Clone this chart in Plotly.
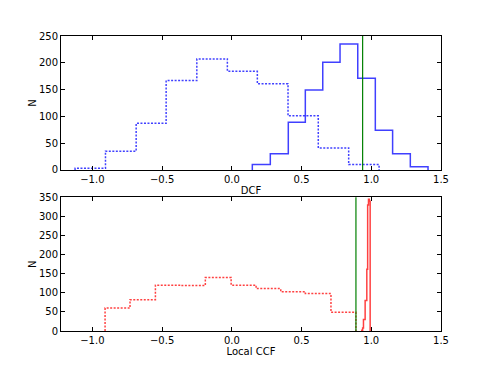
import plotly.graph_objects as go
from plotly.subplots import make_subplots

# DCF distributions (top panel)
dcf_ref_edges = [-1.124, -0.906, -0.686, -0.471, -0.251, -0.032, 0.183, 0.403, 0.620, 0.838, 1.056]
dcf_ref_counts = [3, 35, 87, 167, 207, 184, 161, 101, 41, 10]
dcf_edges = [0.147, 0.276, 0.405, 0.527, 0.652, 0.776, 0.903, 1.029, 1.153, 1.280, 1.407]
dcf_counts = [10, 30, 89, 149, 201, 235, 171, 74, 30, 6]
dcf_marker = 0.938

# Local CCF distributions (bottom panel)
ccf_ref_edges = [-0.909, -0.730, -0.548, -0.368, -0.190, -0.005, 0.174, 0.351, 0.527, 0.711, 0.890]
ccf_ref_counts = [60, 82, 120, 119, 140, 120, 111, 103, 98, 49]
ccf_edges = [0.932, 0.938, 0.944, 0.950, 0.956, 0.962, 0.968, 0.974, 0.980, 0.986, 0.992]
ccf_counts = [2, 8, 30, 30, 80, 80, 162, 330, 345, 340]
ccf_marker = 0.890

x_ticks = [-1.0, -0.5, 0.0, 0.5, 1.0, 1.5]


def step_trace(edges, counts, color, dash):
    # matplotlib-style "step" outline of a histogram
    xs = [edges[0]] + list(edges)
    ys = [0] + list(counts) + [0]
    return go.Scatter(x=xs, y=ys, mode="lines", line_shape="hv",
                      line=dict(color=color, width=1.5, dash=dash),
                      showlegend=False, hoverinfo="skip")


fig = make_subplots(rows=2, cols=1, vertical_spacing=0.09)

blue = "rgba(0,0,255,0.75)"
red = "rgba(255,0,0,0.75)"
dotted = "2px,1.5px"
fig.add_trace(step_trace(dcf_ref_edges, dcf_ref_counts, blue, dotted), row=1, col=1)
fig.add_trace(step_trace(dcf_edges, dcf_counts, blue, "solid"), row=1, col=1)
fig.add_trace(step_trace(ccf_ref_edges, ccf_ref_counts, red, dotted), row=2, col=1)
fig.add_trace(step_trace(ccf_edges, ccf_counts, red, "solid"), row=2, col=1)

fig.add_vline(x=dcf_marker, line=dict(color="green", width=1.2), row=1, col=1)
fig.add_vline(x=ccf_marker, line=dict(color="green", width=1.2), row=2, col=1)

axis_style = dict(showgrid=False, zeroline=False, showline=True, linecolor="black",
                  linewidth=1, mirror="allticks", ticks="inside", ticklen=4,
                  tickcolor="black", tickfont=dict(size=10, color="black"),
                  automargin=False)

fig.update_xaxes(range=[-1.225, 1.5], tickvals=x_ticks,
                 ticktext=[f"{v:.1f}".replace("-", "\u2212") for v in x_ticks], **axis_style)
fig.update_yaxes(**axis_style)
fig.update_yaxes(range=[0, 250], dtick=50, row=1, col=1)
fig.update_yaxes(range=[0, 350], dtick=50, row=2, col=1)

fig.update_xaxes(title=dict(text="DCF", font=dict(size=10), standoff=3), row=1, col=1)
fig.update_xaxes(title=dict(text="Local CCF", font=dict(size=10), standoff=1), row=2, col=1)
fig.update_yaxes(title=dict(text="N", font=dict(size=10), standoff=0))

# page body adds ~8px offset, margins compensate for it
fig.update_layout(
    width=491, height=368,
    margin=dict(l=53, r=58, t=28, b=45),
    plot_bgcolor="white", paper_bgcolor="white",
    font=dict(family="DejaVu Sans", color="black"),
    yaxis=dict(domain=[0.546, 1.0]),
    yaxis2=dict(domain=[0.0, 0.453]),
)

fig.write_html("out.html")
